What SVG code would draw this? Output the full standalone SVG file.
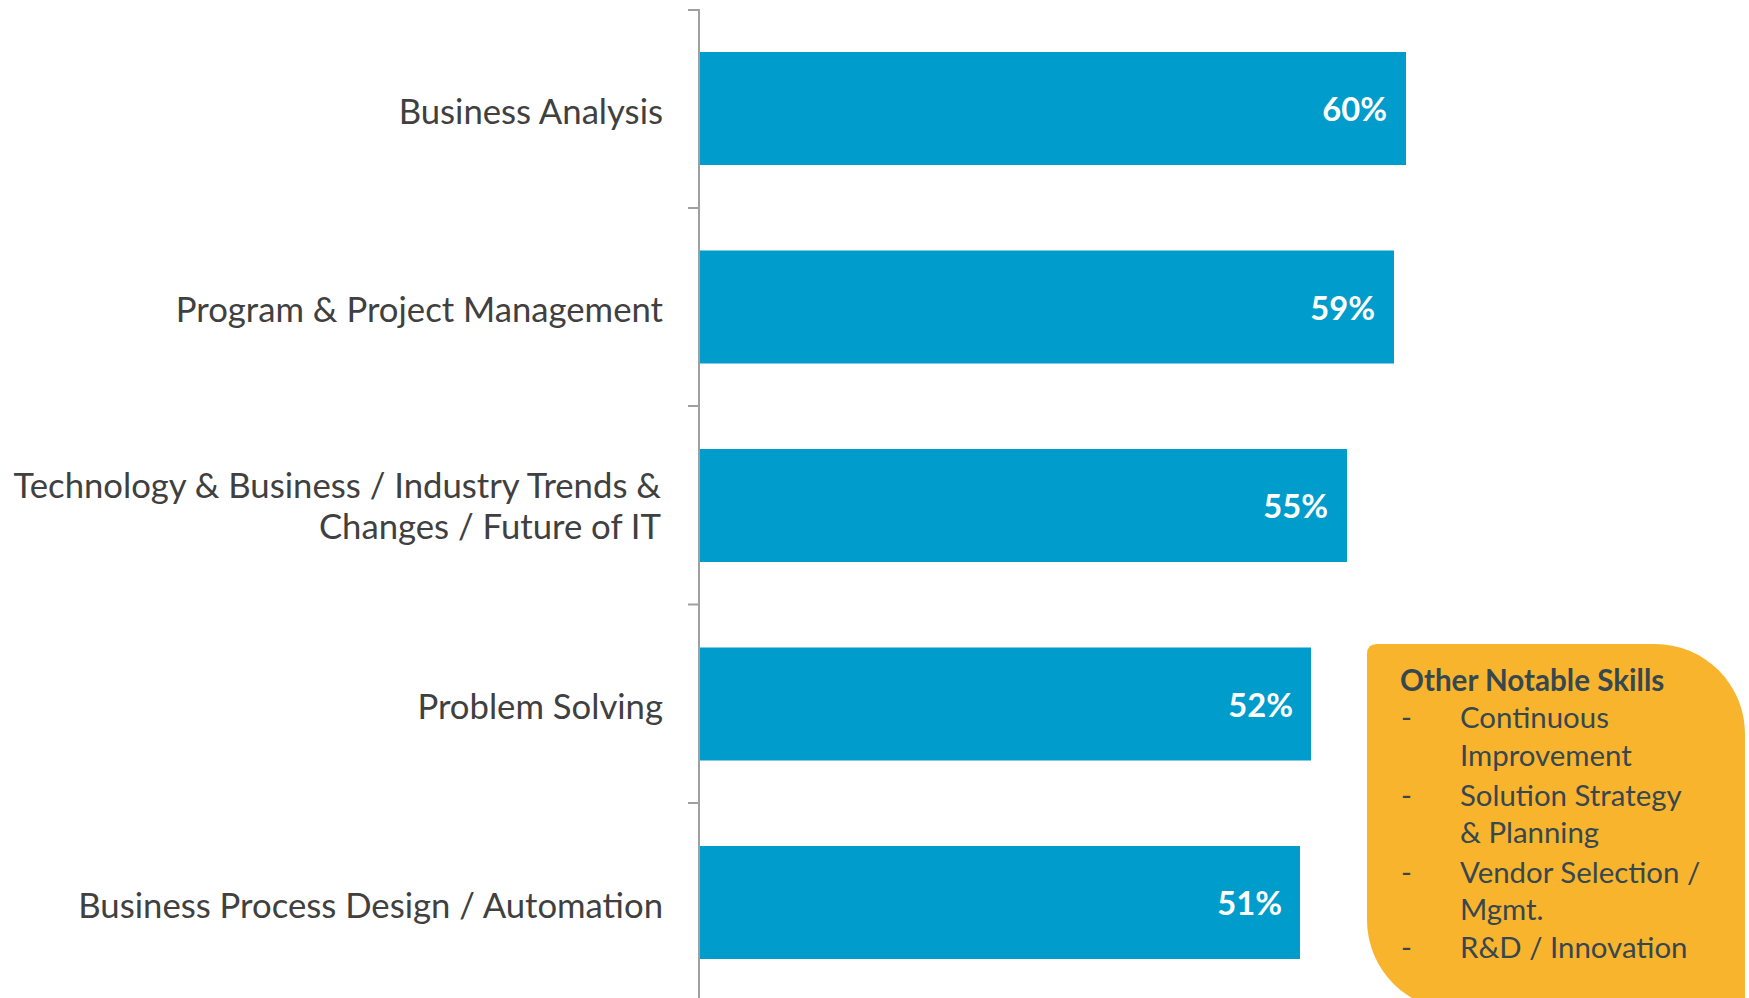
<svg xmlns="http://www.w3.org/2000/svg" width="1749" height="998" viewBox="0 0 1749 998">
<style>
.lbl{font-family:Lato,"Liberation Sans",sans-serif;font-size:34.7px;fill:#404040;text-anchor:end}
.val{font-family:Lato,"Liberation Sans",sans-serif;font-size:32.7px;font-weight:bold;fill:#ffffff;text-anchor:end}
.bar{fill:#009CCB}
.ax{stroke:#A0A0A0;stroke-width:2;fill:none}
.hd{font-family:Lato,"Liberation Sans",sans-serif;font-size:29.6px;font-weight:bold;fill:#37474F}
.it{font-family:Lato,"Liberation Sans",sans-serif;font-size:29.4px;fill:#37474F}
</style>
<rect width="1749" height="998" fill="#ffffff"/>
<g id="axis">
<path class="ax" d="M699,9 V998 M688,10 H699 M688,208 H699 M688,406 H699 M688,604.5 H699 M688,803 H699"/>
</g>
<g id="bar1"><rect class="bar" x="700" y="52" width="706" height="113"/><text class="lbl" x="663" y="123.5">Business Analysis</text><text class="val" x="1387" y="121">60%</text></g>
<g id="bar2"><rect class="bar" x="700" y="250.5" width="694" height="113"/><text class="lbl" x="663" y="322">Program &amp; Project Management</text><text class="val" x="1375" y="319.5">59%</text></g>
<g id="bar3"><rect class="bar" x="700" y="449" width="647" height="113"/><text class="lbl" x="661" y="498">Technology &amp; Business / Industry Trends &amp;</text><text class="lbl" x="661" y="539">Changes / Future of IT</text><text class="val" x="1328" y="518">55%</text></g>
<g id="bar4"><rect class="bar" x="700" y="647.5" width="611" height="113"/><text class="lbl" x="663" y="719">Problem Solving</text><text class="val" x="1293" y="716.5">52%</text></g>
<g id="bar5"><rect class="bar" x="700" y="846" width="600" height="113"/><text class="lbl" x="663" y="917.5">Business Process Design / Automation</text><text class="val" x="1282" y="915">51%</text></g>
<g id="other-skills">
<path d="M1367,654 Q1367,644 1377,644 L1655,644 A90,90 0 0 1 1745,734 L1745,1010 L1457,1010 A90,90 0 0 1 1367,920 Z" fill="#F9B42D"/>
<text class="hd" x="1400" y="691">Other Notable Skills</text>
<text class="it"><tspan x="1401" y="728">-</tspan><tspan x="1460" y="728">Continuous</tspan><tspan x="1460" y="766">Improvement</tspan><tspan x="1401" y="806">-</tspan><tspan x="1460" y="806">Solution Strategy</tspan><tspan x="1460" y="843">&amp; Planning</tspan><tspan x="1401" y="883">-</tspan><tspan x="1460" y="883">Vendor Selection /</tspan><tspan x="1460" y="920">Mgmt.</tspan><tspan x="1401" y="958">-</tspan><tspan x="1460" y="958">R&amp;D / Innovation</tspan></text>
</g>
</svg>
